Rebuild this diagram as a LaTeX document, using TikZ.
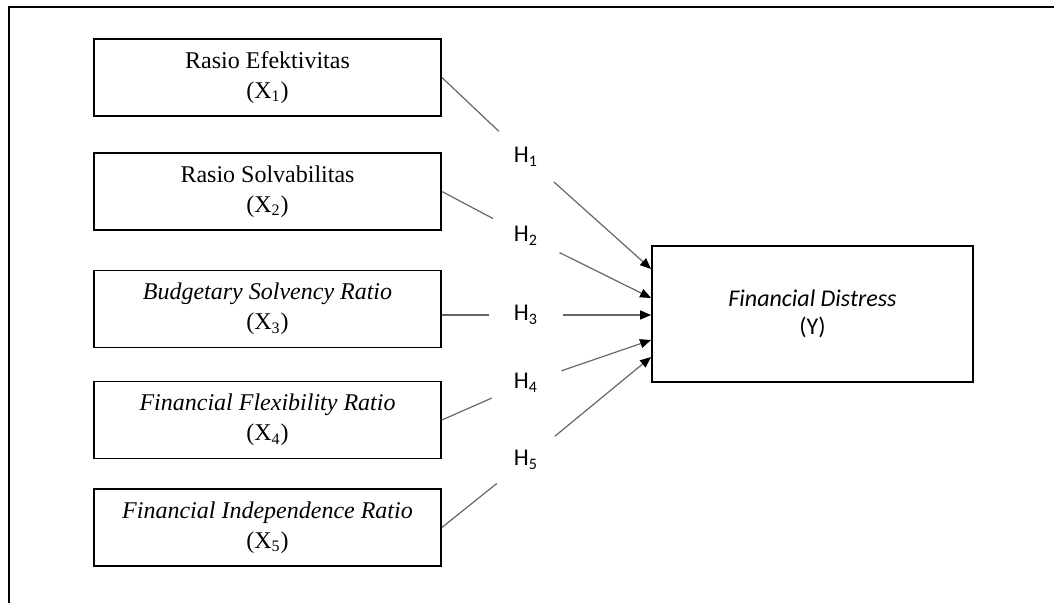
\documentclass[tikz,border=0pt]{standalone}
\usepackage{fontspec}
\setmainfont{Liberation Serif}
\newfontfamily\calibri{Carlito}
\usetikzlibrary{arrows.meta}
\tikzset{
  var/.style={draw, line width=0.9pt, minimum width=173.5pt, minimum height=38.5pt,
    inner sep=0pt, align=center, font=\fontsize{12}{15}\selectfont},
  hyp/.style={circle, minimum size=37pt, inner sep=0pt, font=\calibri\fontsize{12}{14}\selectfont},
  link/.style={draw=black!60, line width=0.6pt},
  tip/.style={-{Triangle[length=5.5pt,width=4.5pt,color=black]}},
}
\begin{document}
\begin{tikzpicture}[x=0.5pt,y=-0.5pt]
  \useasboundingbox (0,0) rectangle (1054,603);
  \draw[line width=0.8pt] (9,603) -- (9,7) -- (1054,7);
  \draw
    (267.5,77.5) node[var] (x1){Rasio Efektivitas\\(X\textsubscript{1})}
    (267.5,191.5) node[var] (x2){Rasio Solvabilitas\\(X\textsubscript{2})}
    (267.5,309) node[var] (x3){\textit{Budgetary Solvency Ratio}\\(X\textsubscript{3})}
    (267.5,420) node[var] (x4){\textit{Financial Flexibility Ratio}\\(X\textsubscript{4})}
    (267.5,527.5) node[var] (x5){\textit{Financial Independence Ratio}\\(X\textsubscript{5})};
  \draw
    (526,157) node[hyp] (h1){H\textsubscript{1}}
    (526,236) node[hyp] (h2){H\textsubscript{2}}
    (526,315) node[hyp] (h3){H\textsubscript{3}}
    (526,383) node[hyp] (h4){H\textsubscript{4}}
    (526,460) node[hyp] (h5){H\textsubscript{5}};
  \node[var, minimum width=160.5pt, minimum height=68pt, font=\calibri\fontsize{12}{14}\selectfont]
    (y) at (812.5,314) {\textit{Financial Distress}\\(Y)};
  \begin{scope}[link]
    \draw (x1.east) to (h1);
    \draw (x2.east) to (h2);
    \draw (x3.east |- h3) to (h3);
    \draw (x4.east) to (h4);
    \draw (x5.east) to (h5);
  \end{scope}
  \begin{scope}[link, tip]
    \draw (h1) to ([yshift=22.5pt]y.west);
    \draw (h2) to ([yshift=8pt]y.west);
    \draw (h3) to (y.west |- h3);
    \draw (h4) to ([yshift=-13pt]y.west);
    \draw (h5) to ([yshift=-21.5pt]y.west);
  \end{scope}
\end{tikzpicture}
\end{document}
